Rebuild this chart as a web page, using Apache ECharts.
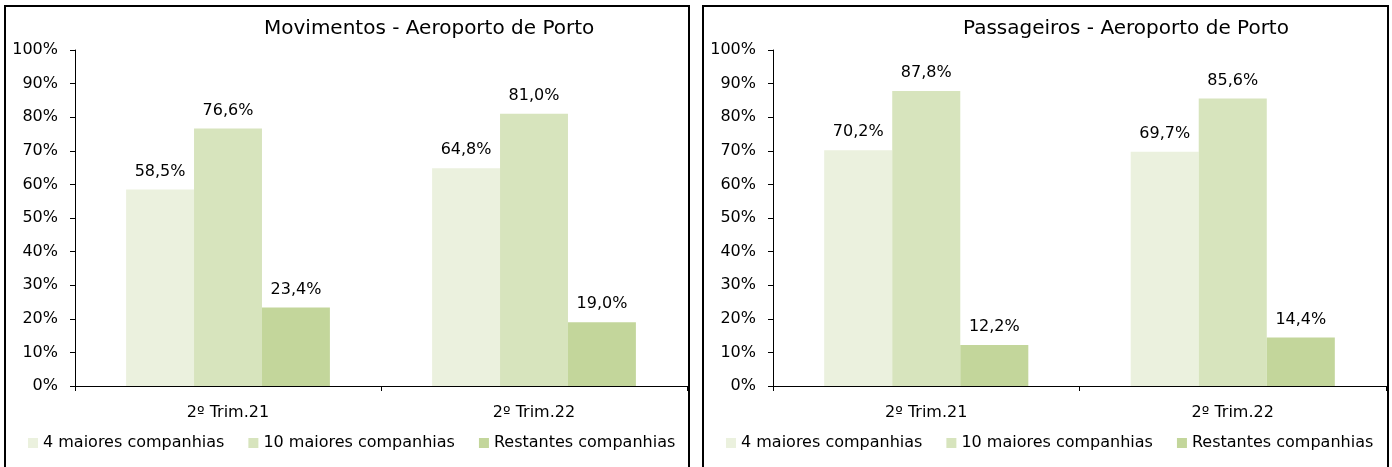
<!DOCTYPE html>
<html>
<head>
<meta charset="utf-8">
<script src="https://cdn.jsdelivr.net/npm/echarts@6/dist/echarts.min.js"></script>
<style>
  html, body { margin: 0; padding: 0; background: #fff; overflow: hidden; }
  #chart { position: absolute; left: 0; top: 0; width: 1392px; height: 467px; }
  .frame { position: absolute; top: 5px; height: 470px; border: 2px solid #000; box-sizing: border-box; pointer-events: none; }
</style>
</head>
<body>
<div id="chart"></div>
<div class="frame" style="left:4px;width:686px;"></div>
<div class="frame" style="left:702px;width:687px;"></div>
<script>
  // dados
  const categories = ['2º Trim.21', '2º Trim.22']
  const seriesNames = ['4 maiores companhias', '10 maiores companhias', 'Restantes companhias']
  const colors = ['#EBF1DE', '#D7E4BD', '#C3D69B']

  const movTop4 = [58.5, 64.8]
  const movTop10 = [76.6, 81.0]
  const movRest = [23.4, 19.0]

  const pasTop4 = [70.2, 69.7]
  const pasTop10 = [87.8, 85.6]
  const pasRest = [12.2, 14.4]

  const titles = ['Movimentos - Aeroporto de Porto', 'Passageiros - Aeroporto de Porto']

  const font = 'Tahoma, "DejaVu Sans", sans-serif'

  const chart = echarts.init(document.getElementById('chart'))

  function barSeries (name, data, idx, color) {
    return {
      name: name,
      type: 'bar',
      xAxisIndex: idx,
      yAxisIndex: idx,
      data: data,
      barWidth: '22.2%',
      barGap: '0%',
      itemStyle: { color: color },
      label: {
        show: true,
        position: 'top',
        distance: 10,
        color: '#000',
        fontSize: 16,
        fontFamily: font,
        formatter: p => p.value.toFixed(1).replace('.', ',') + '%'
      }
    }
  }

  const xAxis = [0, 1].map(i => ({
    type: 'category',
    gridIndex: i,
    data: categories,
    axisLine: { lineStyle: { color: '#000', width: 1 } },
    axisTick: { show: true, length: 5, lineStyle: { color: '#000' } },
    axisLabel: { color: '#000', fontSize: 16, fontFamily: font, margin: 19 }
  }))

  const yAxis = [0, 1].map(i => ({
    type: 'value',
    gridIndex: i,
    min: 0,
    max: 100,
    interval: 10,
    splitLine: { show: false },
    axisLine: { show: true, lineStyle: { color: '#000', width: 1 } },
    axisTick: { show: true, length: 5, lineStyle: { color: '#000' } },
    axisLabel: { color: '#000', fontSize: 16, fontFamily: font, margin: 17, formatter: '{value}%' }
  }))

  const option = {
    animation: false,
    title: [
      { text: titles[0], left: 264, top: 19, padding: 0, textStyle: { color: '#000', fontSize: 20, fontWeight: 'normal', fontFamily: font } },
      { text: titles[1], left: 963, top: 19, padding: 0, textStyle: { color: '#000', fontSize: 20, fontWeight: 'normal', fontFamily: font } }
    ],
    legend: [0, 1].map(i => ({
      data: seriesNames,
      left: i === 0 ? 28 : 726,
      top: 435,
      padding: 0,
      itemWidth: 10,
      itemHeight: 10,
      itemGap: 24,
      icon: 'rect',
      textStyle: { color: '#000', fontSize: 16, fontFamily: font }
    })),
    grid: [
      { left: 75, top: 50, width: 612, height: 336 },
      { left: 773, top: 50, width: 613, height: 336 }
    ],
    xAxis: xAxis,
    yAxis: yAxis,
    series: [
      barSeries(seriesNames[0], movTop4, 0, colors[0]),
      barSeries(seriesNames[1], movTop10, 0, colors[1]),
      barSeries(seriesNames[2], movRest, 0, colors[2]),
      barSeries(seriesNames[0], pasTop4, 1, colors[0]),
      barSeries(seriesNames[1], pasTop10, 1, colors[1]),
      barSeries(seriesNames[2], pasRest, 1, colors[2])
    ]
  }

  chart.setOption(option)
</script>
</body>
</html>
